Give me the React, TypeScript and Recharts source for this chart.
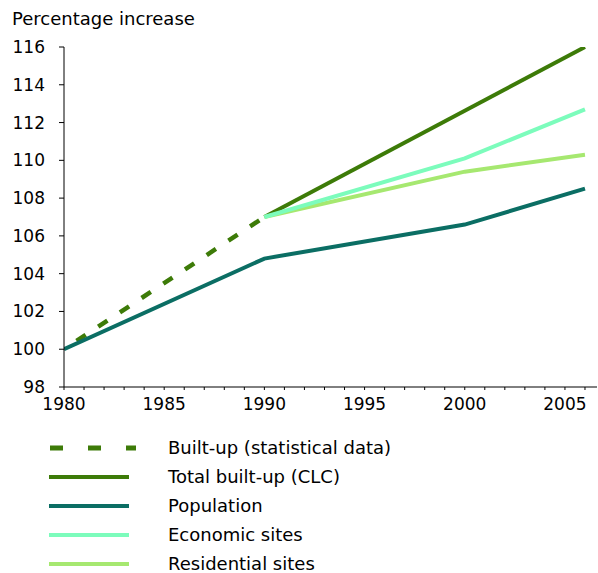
import React from "react";
import { LineChart, Line, XAxis, YAxis, Legend } from "recharts";

const years = [1980, 1990, 2000, 2006];
const builtUpStat = [100, 107, null, null];
const totalBuiltUp = [null, 107, null, 116];
const population = [100, 104.8, 106.6, 108.5];
const economicSites = [null, 107, 110.1, 112.7];
const residentialSites = [null, 107, 109.4, 110.3];

const xTicks = Array.from({ length: 27 }, (_, i) => 1980 + i);
const yTicks = [98, 100, 102, 104, 106, 108, 110, 112, 114, 116];

const series = [
  { key: "stat", name: "Built-up (statistical data)", color: "#3d7b08", dashed: true },
  { key: "total", name: "Total built-up (CLC)", color: "#3d7b08", dashed: false },
  { key: "pop", name: "Population", color: "#0b6e64", dashed: false },
  { key: "eco", name: "Economic sites", color: "#7cfcbc", dashed: false },
  { key: "res", name: "Residential sites", color: "#a6e870", dashed: false },
];

const data = years.map((y, i) => ({
  year: y,
  stat: builtUpStat[i],
  total: totalBuiltUp[i],
  pop: population[i],
  eco: economicSites[i],
  res: residentialSites[i],
}));

const FONT = "'DejaVu Sans', Verdana, sans-serif";

const LegendContent = () => (
  <svg width={598} height={150} style={{ display: "block" }}>
    {series.map((s, i) => {
      const cy = 18 + i * 29;
      return (
        <g key={s.key}>
          {s.dashed ? (
            <line x1={50} x2={136} y1={cy} y2={cy} stroke={s.color} strokeWidth={5} strokeDasharray="13 25" />
          ) : (
            <line x1={49} x2={129} y1={cy} y2={cy} stroke={s.color} strokeWidth={4} />
          )}
          <text x={168} y={cy} dy="0.36em" fontSize={18} fontFamily={FONT} fill="#000">
            {s.name}
          </text>
        </g>
      );
    })}
  </svg>
);

export default function App() {
  return (
    <div style={{ position: "absolute", left: 0, top: 0, width: 598, height: 573, background: "#fff", fontFamily: FONT }}>
      <div style={{ position: "absolute", left: 12, top: 10, fontSize: 18, lineHeight: "18px", color: "#000", whiteSpace: "nowrap" }}>
        Percentage increase
      </div>
      <LineChart width={598} height={573} data={data} margin={{ top: 47, right: 1, left: 0, bottom: 156 }}>
        <XAxis
          dataKey="year"
          type="number"
          domain={[1980, 2006.6]}
          ticks={xTicks}
          interval={0}
          tickFormatter={(v: number) => (v % 5 === 0 ? String(v) : "")}
          tickSize={3}
          tickMargin={8}
          height={30}
          stroke="#000"
          tick={{ fill: "#000", fontSize: 17, fontFamily: FONT }}
          allowDataOverflow
        />
        <YAxis
          type="number"
          domain={[98, 116]}
          ticks={yTicks}
          interval={0}
          width={64}
          tickSize={5}
          tickMargin={14}
          stroke="#000"
          tick={{ fill: "#000", fontSize: 17, fontFamily: FONT }}
          allowDataOverflow
        />
        <Line dataKey="stat" name="Built-up (statistical data)" stroke="#3d7b08" strokeWidth={4.5} strokeDasharray="11 15" strokeDashoffset={11} dot={false} isAnimationActive={false} />
        <Line dataKey="total" name="Total built-up (CLC)" stroke="#3d7b08" strokeWidth={4} connectNulls dot={false} isAnimationActive={false} />
        <Line dataKey="pop" name="Population" stroke="#0b6e64" strokeWidth={4} dot={false} isAnimationActive={false} />
        <Line dataKey="res" name="Residential sites" stroke="#a6e870" strokeWidth={4} dot={false} isAnimationActive={false} />
        <Line dataKey="eco" name="Economic sites" stroke="#7cfcbc" strokeWidth={4} dot={false} isAnimationActive={false} />
        <Legend
          layout="vertical"
          align="center"
          verticalAlign="middle"
          content={<LegendContent />}
          wrapperStyle={{ position: "absolute", left: 0, top: 430, width: 598, height: 150, margin: 0 }}
        />
      </LineChart>
    </div>
  );
}
